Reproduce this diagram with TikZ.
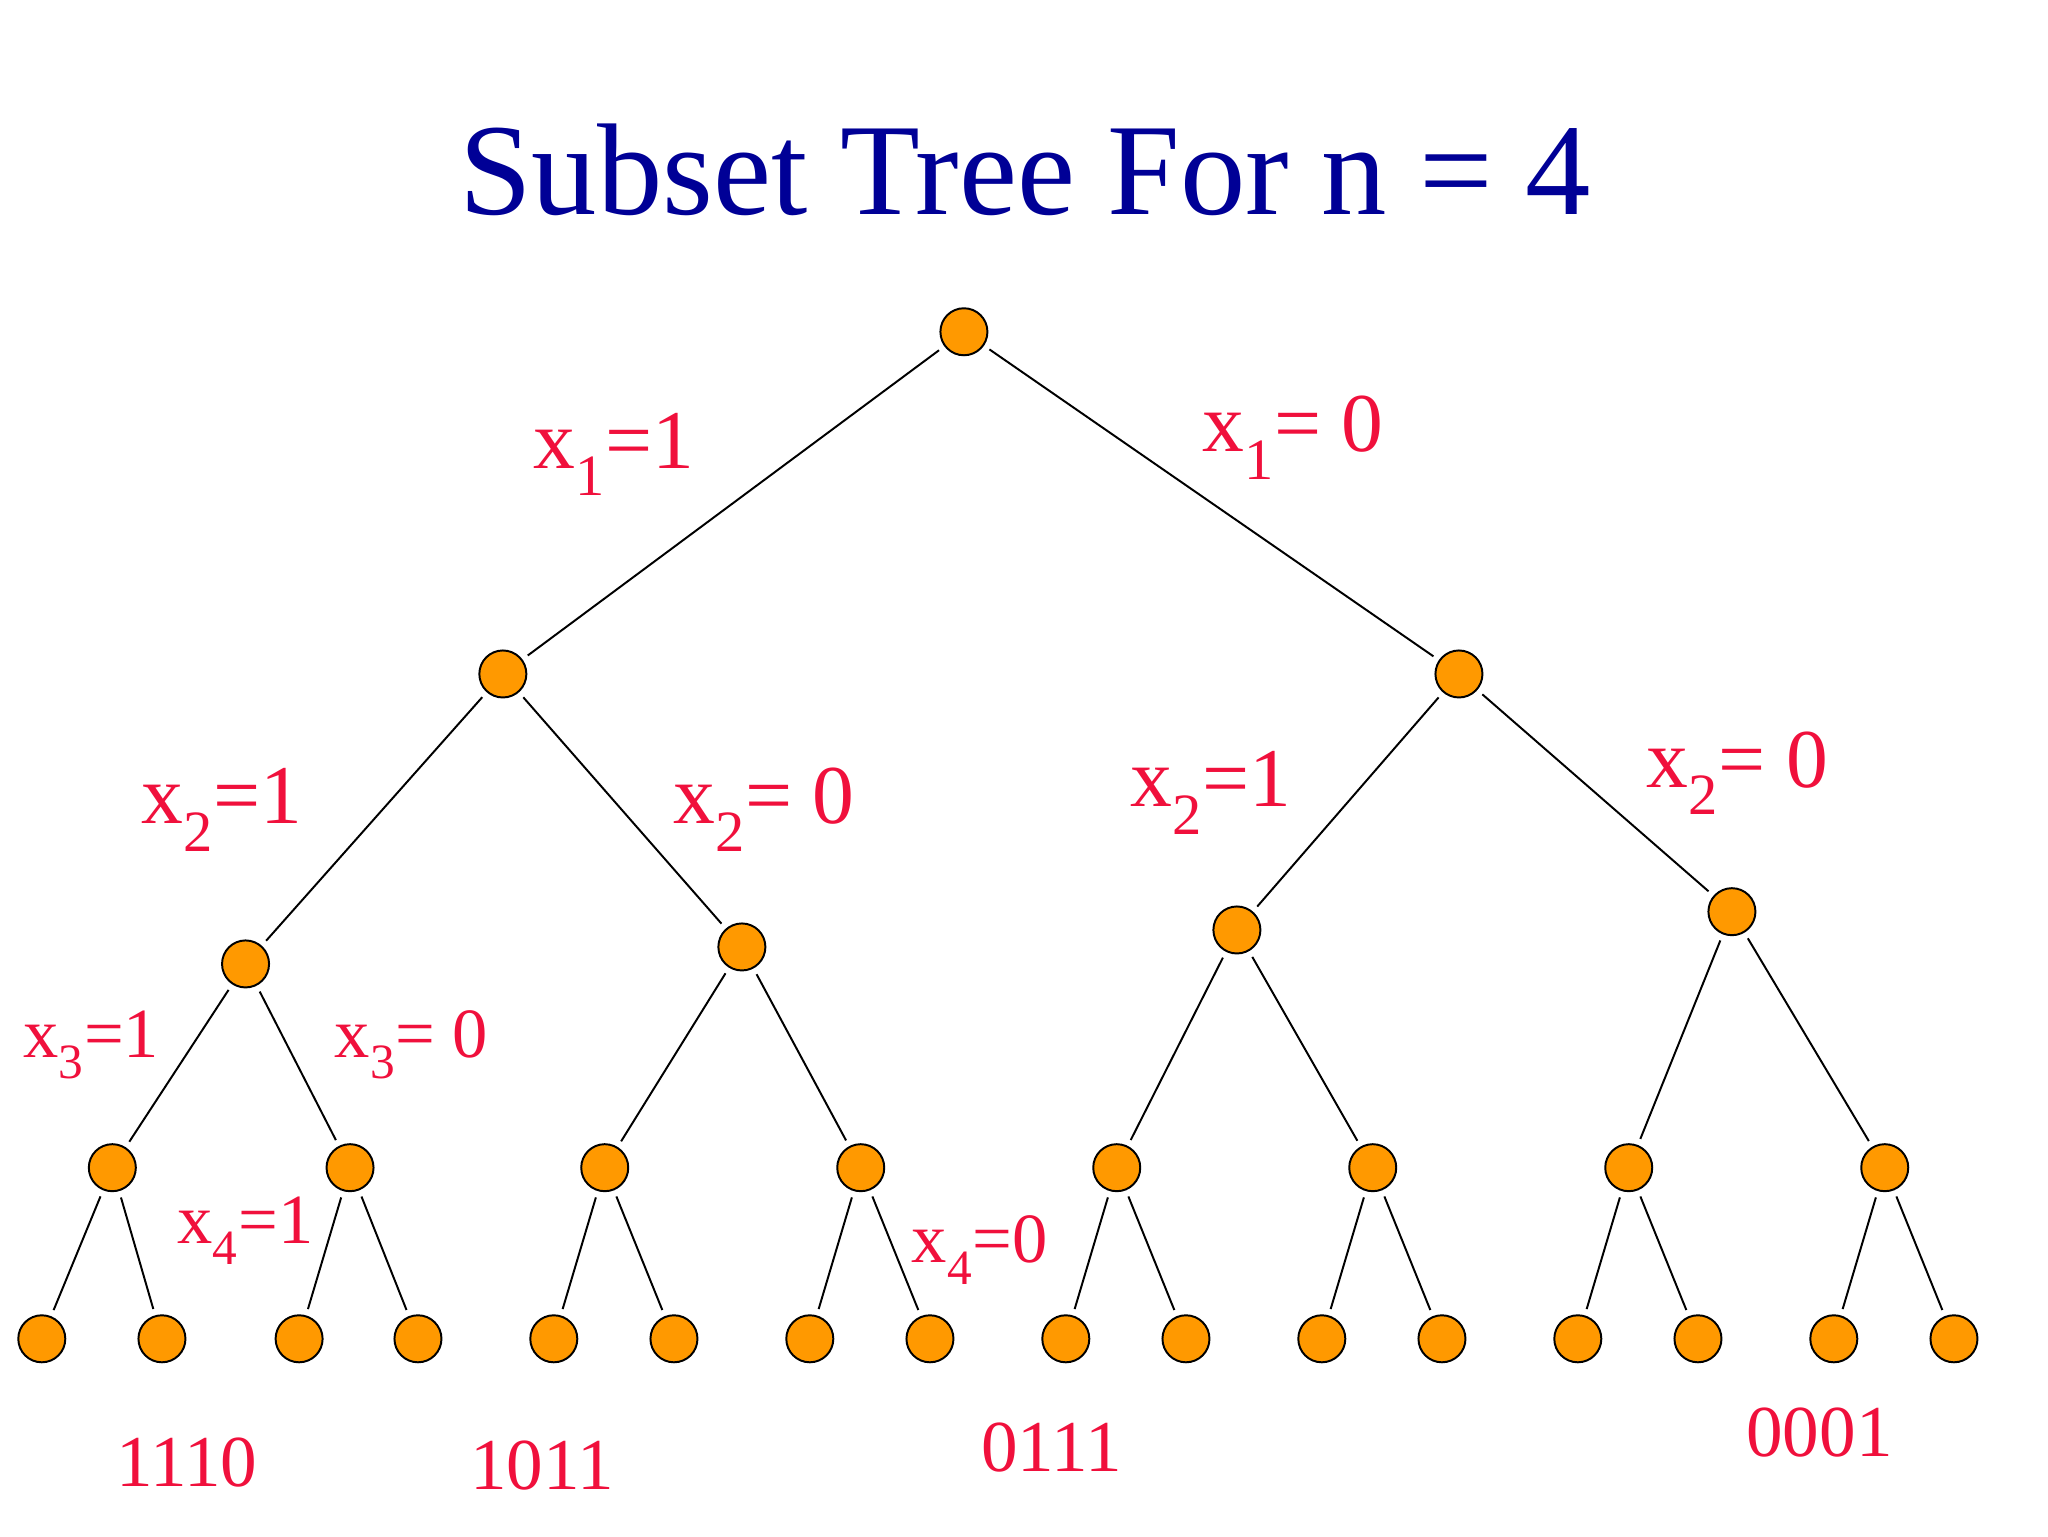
\documentclass[tikz,border=0pt]{standalone}
\usepackage{fontspec}
\setmainfont{Liberation Serif}
\definecolor{ttl}{RGB}{0,0,150}
\definecolor{lbl}{RGB}{240,16,60}
\definecolor{nd}{RGB}{255,153,0}
\begin{document}
\begin{tikzpicture}[x=1pt,y=-1pt,
  vx/.style={circle,draw=black,line width=1.5pt,fill=nd,minimum size=36pt,inner sep=0pt},
  ed/.style={line width=1.5pt,shorten <=5pt,shorten >=5pt},
  lb/.style={text=lbl,font=\fontsize{64}{64}\selectfont,inner sep=0pt},
  bl/.style={text=lbl,font=\fontsize{56}{56}\selectfont,inner sep=0pt}]
\useasboundingbox (0,0) rectangle (1568,1176);
\node[text=ttl,font=\fontsize{100}{100}\selectfont] (title) at (785,130) {Subset Tree For n = 4};
\node[vx] (r) at (738,254) {};
\node[vx] (a) at (385,516) {};
\node[vx] (b) at (1117,516) {};
\node[vx] (c1) at (188,738) {};
\node[vx] (c2) at (568,725) {};
\node[vx] (c3) at (947,712) {};
\node[vx] (c4) at (1326,698) {};
\foreach \i/\x in {1/86,2/268,3/463,4/659,5/855,6/1051,7/1247,8/1443}
  \node[vx] (d\i) at (\x,894) {};
\foreach \i/\x in {1/32,2/124,3/229,4/320,5/424,6/516,7/620,8/712,9/816,10/908,11/1012,12/1104,13/1208,14/1300,15/1404,16/1496}
  \node[vx] (e\i) at (\x,1025) {};
\draw[ed] (r)--(a); \draw[ed] (r)--(b);
\draw[ed] (a)--(c1); \draw[ed] (a)--(c2);
\draw[ed] (b)--(c3); \draw[ed] (b)--(c4);
\draw[ed] (c1)--(d1); \draw[ed] (c1)--(d2);
\draw[ed] (c2)--(d3); \draw[ed] (c2)--(d4);
\draw[ed] (c3)--(d5); \draw[ed] (c3)--(d6);
\draw[ed] (c4)--(d7); \draw[ed] (c4)--(d8);
\foreach \i in {1,...,8}{
  \pgfmathtruncatemacro\l{2*\i-1}\pgfmathtruncatemacro\m{2*\i}
  \draw[ed] (d\i)--(e\l); \draw[ed] (d\i)--(e\m);}
\node[lb] (l1) at (470,348) {x\textsubscript{1}=1};
\node[lb] (l2) at (990,335) {x\textsubscript{1}= 0};
\node[lb] (l3) at (170,620) {x\textsubscript{2}=1};
\node[lb] (l4) at (585,620) {x\textsubscript{2}= 0};
\node[lb] (l5) at (927,607) {x\textsubscript{2}=1};
\node[lb] (l6) at (1330,592) {x\textsubscript{2}= 0};
\node[lb,font=\fontsize{54}{54}\selectfont] (l7) at (70,800) {x\textsubscript{3}=1};
\node[lb,font=\fontsize{54}{54}\selectfont] (l8) at (315,800) {x\textsubscript{3}= 0};
\node[lb,font=\fontsize{54}{54}\selectfont] (l9) at (188,942) {x\textsubscript{4}=1};
\node[lb,font=\fontsize{54}{54}\selectfont] (l10) at (750,957) {x\textsubscript{4}=0};
\node[bl] (b1) at (143,1120) {1110};
\node[bl] (b2) at (415,1122) {1011};
\node[bl] (b3) at (805,1108) {0111};
\node[bl] (b4) at (1393,1097) {0001};
\end{tikzpicture}
\end{document}
